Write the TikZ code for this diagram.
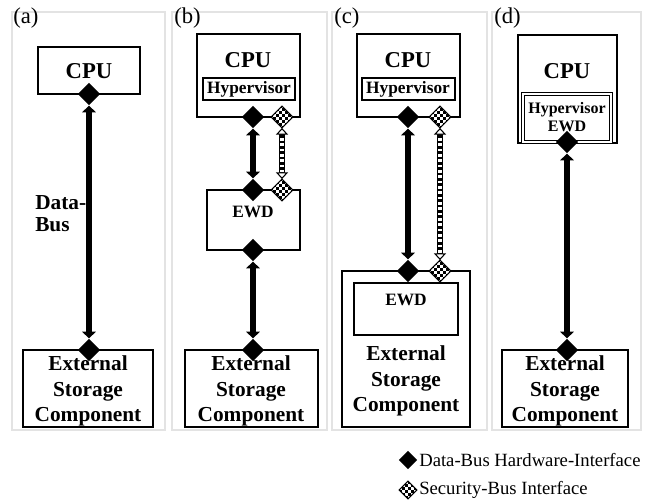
\documentclass[tikz,border=0pt]{standalone}
\usepackage{fontspec}
\setmainfont{Liberation Serif}
\usetikzlibrary{shapes.geometric}
\usetikzlibrary{arrows.meta}
\usetikzlibrary{fit}
\usetikzlibrary{calc}

% checkerboard filling of a security interface diamond
\newcommand\checker[1]{%
  \begin{scope}
    \clip (#1.north) -- (#1.east) -- (#1.south) -- (#1.west) -- cycle;
    \foreach \i in {-5,...,4} \foreach \j in {-5,...,4} {
      \ifodd\numexpr\i+\j+10\relax\else
        \fill[black] ($(#1.center)+(\i*2.2pt,\j*2.2pt)$) rectangle ++(2.2pt,2.2pt);
      \fi}
  \end{scope}
  \draw[line width=0.8pt] (#1.north) -- (#1.east) -- (#1.south) -- (#1.west) -- cycle;}

\begin{document}
\begin{tikzpicture}[
    x=0.75pt, y=-0.75pt
]
\tikzset{
    panel/.style = {draw=gray!22, line width=2pt},
    sublabel/.style = {anchor=north west, inner sep=0pt, font=\fontsize{17}{17}\selectfont},
    box/.style = {draw=black, line width=1.5pt, inner sep=0pt},
    hyp/.style = {draw=black, line width=2pt, inner sep=0pt},
    hypd/.style = {draw=black, double, double distance=1.2pt, line width=0.9pt, inner sep=0pt},
    cputext/.style = {inner sep=0pt, font=\fontsize{17}{19}\selectfont\bfseries},
    hyptext/.style = {inner sep=0pt, align=center, font=\fontsize{13}{13}\selectfont\bfseries},
    ewdtext/.style = {inner sep=0pt, font=\fontsize{13}{15}\selectfont\bfseries},
    esctext/.style = {inner sep=0pt, align=center, font=\fontsize{16}{19}\selectfont\bfseries},
    hwif/.style = {diamond, fill=black, inner sep=0pt, minimum width=17pt, minimum height=17pt},
    secif/.style = {diamond, fill=white, inner sep=0pt, minimum width=16pt, minimum height=16pt},
    databus/.style = {line width=5pt,
        {Triangle[width=10pt,length=5pt]}-{Triangle[width=10pt,length=5pt]}},
    secbus/.style = {line width=4.5pt,
        {Triangle[width=9pt,length=5pt,fill=white,line width=0.8pt]}-{Triangle[width=9pt,length=5pt,fill=white,line width=0.8pt]}},
    secfill/.style = {draw=white, line width=2.6pt, shorten <=5.5pt, shorten >=5.5pt,
        postaction={draw=black, dash pattern=on 2pt off 2pt}}
}
\useasboundingbox (0,0) rectangle (645,503);

% the four panels
\draw[panel] (12,12) rectangle (165,430);
\draw[panel] (172,12) rectangle (327,430);
\draw[panel] (332,12) rectangle (487,430);
\draw[panel] (492,12) rectangle (641,430);
\node[sublabel] (labA) at (13,8) {(a)};
\node[sublabel] (labB) at (174,8) {(b)};
\node[sublabel] (labC) at (334,8) {(c)};
\node[sublabel] (labD) at (494,8) {(d)};

% (a) plain data bus
\node[box, fit={(38,47) (140,94)}] (cpuA) {};
\node[cputext] (cpuAt) at (89,71) {CPU};
\node[box, fit={(23,350) (153,427)}] (escA) {};
\node[esctext] (escAt) at (88,391) {External\\Storage\\Component};
\node[hwif] (hwA1) at (89,94) {};
\node[hwif] (hwA2) at (89,350) {};
\draw[databus] (hwA1.south) -- (hwA2.north);
\node[anchor=west, align=left, inner sep=0pt, font=\fontsize{16}{16.5}\selectfont\bfseries]
    (busA) at (35,214) {Data-\\Bus};

% (b) EWD between CPU and storage
\node[box, fit={(197,34) (300,117)}] (cpuB) {};
\node[cputext] (cpuBt) at (248,60) {CPU};
\node[hyp, fit={(203,78) (295,100)}] (hypB) {};
\node[hyptext] (hypBt) at (249,89) {Hypervisor};
\node[box, fit={(207,190) (300,250)}] (ewdB) {};
\node[ewdtext] (ewdBt) at (253,212) {EWD};
\node[box, fit={(185,350) (318,427)}] (escB) {};
\node[esctext] (escBt) at (251,391) {External\\Storage\\Component};
\node[hwif] (hwB1) at (253,117) {};
\node[secif] (seB1) at (282,117) {};
\checker{seB1}
\node[hwif] (hwB2) at (253,190) {};
\node[secif] (seB2) at (282,190) {};
\checker{seB2}
\node[hwif] (hwB3) at (253,250) {};
\node[hwif] (hwB4) at (253,350) {};
\draw[databus] (hwB1.south) -- (hwB2.north);
\draw[secbus] (seB1.south) -- (seB2.north);
\draw[secfill] (seB1.south) -- (seB2.north);
\draw[databus] (hwB3.south) -- (hwB4.north);

% (c) EWD inside storage
\node[box, fit={(357,34) (460,117)}] (cpuC) {};
\node[cputext] (cpuCt) at (408,60) {CPU};
\node[hyp, fit={(362,78) (455,100)}] (hypC) {};
\node[hyptext] (hypCt) at (408,89) {Hypervisor};
\node[box, fit={(342,271) (470,427)}] (escC) {};
\node[box, fit={(354,283) (458,335)}] (ewdC) {};
\node[ewdtext] (ewdCt) at (406,300) {EWD};
\node[esctext] (escCt) at (406,381) {External\\Storage\\Component};
\node[hwif] (hwC1) at (408,117) {};
\node[secif] (seC1) at (440,117) {};
\checker{seC1}
\node[hwif] (hwC2) at (408,271) {};
\node[secif] (seC2) at (440,271) {};
\checker{seC2}
\draw[databus] (hwC1.south) -- (hwC2.north);
\draw[secbus] (seC1.south) -- (seC2.north);
\draw[secfill] (seC1.south) -- (seC2.north);

% (d) EWD inside CPU
\node[box, fit={(518,35) (617,143)}] (cpuD) {};
\node[cputext] (cpuDt) at (567,71) {CPU};
\node[hypd, fit={(523,94) (611,142)}] (hypD) {};
\node[hyptext, font=\fontsize{12}{13}\selectfont\bfseries] (hypDt) at (567,117) {Hypervisor\\EWD};
\node[box, fit={(502,350) (628,427)}] (escD) {};
\node[esctext] (escDt) at (565,391) {External\\Storage\\Component};
\node[hwif] (hwD1) at (567,142) {};
\node[hwif] (hwD2) at (567,350) {};
\draw[databus] (hwD1.south) -- (hwD2.north);

% legend
\node[hwif, minimum width=14pt, minimum height=14pt] (keyHw) at (408,460) {};
\node[anchor=west, inner sep=0pt, font=\fontsize{14}{16}\selectfont]
    (keyHwT) at (419,460) {Data-Bus Hardware-Interface};
\node[secif, minimum width=13pt, minimum height=13pt] (keySe) at (408,490) {};
\checker{keySe}
\node[anchor=west, inner sep=0pt, font=\fontsize{14}{16}\selectfont]
    (keySeT) at (419,490) {Security-Bus Interface};
\end{tikzpicture}
\end{document}
